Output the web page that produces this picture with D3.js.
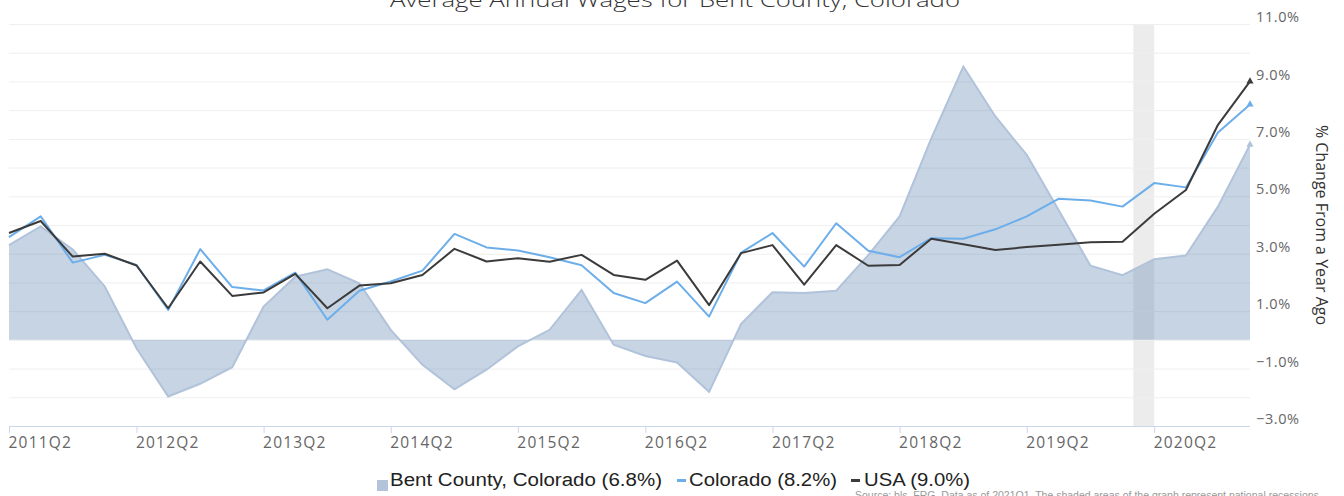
<!DOCTYPE html>
<html>
<head>
<meta charset="utf-8">
<script src="https://cdn.jsdelivr.net/npm/d3@7"></script>
<style>
  body { margin:0; background:#fff; }
  svg { display:block; font-family:"Open Sans", sans-serif; }
</style>
</head>
<body>
<div id="view"></div>
<script>
/* ===================== DATA ===================== */
// quarterly, 2011Q2 .. 2021Q1 (% change from a year ago)
const QUARTERS = d3.range(40).map(i => {
  const q = 1 + i;               // 2011Q2 = quarter index 1 of 2011
  const yr = 2011 + Math.floor(q/4);
  return `${yr}Q${(q%4)+1}`;
});
const BENT = [3.3,3.95,3.15,1.86,-0.29,-1.97,-1.53,-0.95,1.16,2.2,
              2.46,1.97,0.35,-0.87,-1.72,-1.04,-0.23,0.35,1.74,-0.17,
              -0.56,-0.79,-1.81,0.56,1.66,1.63,1.71,2.95,4.3,7.02,
              9.52,7.78,6.44,4.53,2.58,2.25,2.81,2.94,4.64,6.8];
const COLORADO = [3.58,4.3,2.69,2.96,2.61,1.04,3.16,1.84,1.72,2.34,
                  0.7,1.71,2.03,2.41,3.69,3.22,3.11,2.88,2.6,1.63,
                  1.28,2.03,0.81,3.04,3.72,2.55,4.06,3.1,2.88,3.54,
                  3.52,3.85,4.3,4.91,4.85,4.64,5.46,5.31,7.22,8.2];
const USA = [3.72,4.14,2.9,3.0,2.59,1.1,2.73,1.53,1.65,2.3,
             1.1,1.89,1.97,2.26,3.17,2.73,2.84,2.72,2.96,2.26,
             2.09,2.76,1.21,3.02,3.3,1.92,3.3,2.58,2.61,3.52,
             3.33,3.13,3.23,3.31,3.4,3.42,4.39,5.22,7.49,9.0];
const RECESSIONS = [["2020-02-01","2020-04-01"]];
const X_TICKS = ["2011Q2","2012Q2","2013Q2","2014Q2","2015Q2","2016Q2","2017Q2","2018Q2","2019Q2","2020Q2"];
const Y_TICKS = [-3,-1,1,3,5,7,9,11];
const LEGEND = ["Bent County, Colorado (6.8%)","Colorado (8.2%)","USA (9.0%)"];

const qDate = s => new Date(+s.slice(0,4), (+s.slice(5)-1)*3, 1);
const fmtPct = v => d3.format(".1f")(v) + "%";

/* ===================== DRAW ===================== */
const W = 1344, H = 496;
const M = { l:9, r:94, t:24, b:70 };

const svg = d3.select("#view").append("svg").attr("width",W).attr("height",H);

const x = d3.scaleTime()
  .domain([qDate(QUARTERS[0]), qDate(QUARTERS[QUARTERS.length-1])])
  .range([M.l, W - M.r]);
const y = d3.scaleLinear().domain([-3, 11]).range([H - M.b, M.t]);

// recession band
svg.selectAll("rect.rec").data(RECESSIONS).join("rect")
  .attr("x", d => x(new Date(d[0])))
  .attr("width", d => x(new Date(d[1])) - x(new Date(d[0])))
  .attr("y", M.t).attr("height", y(-3) - M.t)
  .attr("fill","#ececec");

// gridlines every 1%
svg.append("g").selectAll("line").data(d3.range(-3, 12)).join("line")
  .attr("x1", M.l).attr("x2", W - M.r)
  .attr("y1", d => y(d) + 0.5).attr("y2", d => y(d) + 0.5)
  .attr("stroke","#efefef").attr("stroke-width",1);

const pts = arr => arr.map((v,i) => [qDate(QUARTERS[i]), v]);

// area (Bent County)
svg.append("path").datum(pts(BENT))
  .attr("d", d3.area().x(d => x(d[0])).y0(y(0)).y1(d => y(d[1])))
  .attr("fill","#4572a7").attr("fill-opacity",0.3);
svg.append("path").datum(pts(BENT))
  .attr("d", d3.line().x(d => x(d[0])).y(d => y(d[1])))
  .attr("fill","none").attr("stroke","#b1c3da").attr("stroke-width",2);

// lines
const SERIES = [
  { vals: COLORADO, color:"#6caeea" },
  { vals: USA,      color:"#3b3b3b" }
];
SERIES.forEach(s => {
  svg.append("path").datum(pts(s.vals))
    .attr("d", d3.line().x(d => x(d[0])).y(d => y(d[1])))
    .attr("fill","none").attr("stroke",s.color).attr("stroke-width",2)
    .attr("stroke-linejoin","round");
});

// end markers
const ends = [
  { v: BENT[BENT.length-1], c:"#b1c3da" },
  { v: COLORADO[COLORADO.length-1], c:"#6caeea" },
  { v: USA[USA.length-1], c:"#3b3b3b" }
];
svg.selectAll("path.end").data(ends).join("path")
  .attr("class","end")
  .attr("transform", d => `translate(${x(qDate(QUARTERS[QUARTERS.length-1]))},${y(d.v)})`)
  .attr("d", d3.symbol(d3.symbolTriangle, 22))
  .attr("fill", d => d.c);

// x axis
const xAxis = svg.append("g").attr("transform",`translate(0,${y(-3)})`)
  .call(d3.axisBottom(x).tickValues(X_TICKS.map(qDate)).tickSize(7)
    .tickFormat((d,i) => X_TICKS[i]));
xAxis.select(".domain").attr("stroke","#ccd6eb").attr("d",`M${M.l},0.5H${W-M.r}`);
xAxis.selectAll(".tick line").attr("stroke","#ccd6eb");
xAxis.selectAll(".tick text")
  .attr("text-anchor","start").attr("x",-1).attr("y",11)
  .attr("fill","#666").style("font-size","15.5px").style("letter-spacing","1.2px")
  .style("font-family","'Open Sans', sans-serif");

// y axis (right)
svg.append("g").selectAll("text").data(Y_TICKS).join("text")
  .attr("x", W - M.r + 6).attr("y", d => y(d) - 7)
  .attr("dy","0.35em")
  .attr("fill","#666").style("font-size","14.5px").style("letter-spacing","0.6px")
  .text(fmtPct);

svg.append("text")
  .attr("transform",`translate(1316,225) rotate(90)`)
  .attr("text-anchor","middle")
  .attr("fill","#333").style("font-size","16px")
  .text("% Change From a Year Ago");

// title
svg.append("text")
  .attr("x", 675).attr("y", 7)
  .attr("text-anchor","middle")
  .attr("fill","#333").style("font-size","20px").style("font-weight",300)
  .attr("textLength",570).attr("lengthAdjust","spacingAndGlyphs")
  .text("Average Annual Wages for Bent County, Colorado");

// legend
const lg = svg.append("g").style("font-family","'Liberation Sans', Arial, sans-serif");
lg.append("rect").attr("x",377).attr("y",480).attr("width",11).attr("height",11).attr("fill","#b3c3da");
lg.append("text").attr("x",390).attr("y",480).attr("dy","0.35em")
  .style("font-size","18px").attr("fill","#222")
  .attr("textLength",272).attr("lengthAdjust","spacingAndGlyphs").text(LEGEND[0]);
lg.append("rect").attr("x",677).attr("y",479).attr("width",9).attr("height",3).attr("fill","#6caeea");
lg.append("text").attr("x",689).attr("y",480).attr("dy","0.35em")
  .style("font-size","18px").attr("fill","#222")
  .attr("textLength",148).attr("lengthAdjust","spacingAndGlyphs").text(LEGEND[1]);
lg.append("rect").attr("x",851).attr("y",479).attr("width",9).attr("height",3).attr("fill","#3b3b3b");
lg.append("text").attr("x",864).attr("y",480).attr("dy","0.35em")
  .style("font-size","18px").attr("fill","#222")
  .attr("textLength",106).attr("lengthAdjust","spacingAndGlyphs").text(LEGEND[2]);

// source note (cut off at the bottom, as in the reference)
svg.append("text").attr("x",855).attr("y",499)
  .style("font-size","10.5px").attr("fill","#999")
  .style("font-family","'Liberation Sans', Arial, sans-serif")
  .text("Source: bls, FRG. Data as of 2021Q1. The shaded areas of the graph represent national recessions.");
</script>
</body>
</html>
